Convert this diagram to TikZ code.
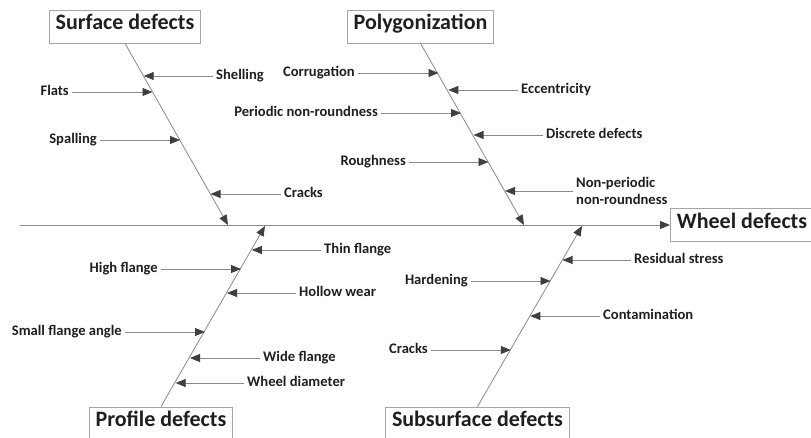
\documentclass[tikz,border=0pt]{standalone}
\usepackage{fontspec}
\setmainfont{Carlito}
\usetikzlibrary{arrows.meta}
\definecolor{bonecol}{HTML}{8A8A8A}
\definecolor{headcol}{HTML}{3F3F3F}
\definecolor{boxcol}{HTML}{A6A6A6}
\definecolor{txtcol}{HTML}{1F1F1F}
\begin{document}
\begin{tikzpicture}[x=1pt,y=-1pt,
  cat/.style={draw=boxcol, line width=0.8pt, text=txtcol,
    font=\fontsize{22}{24}\selectfont\bfseries,
    minimum height=33pt, inner xsep=6.5pt, inner ysep=0pt,
    text height=0.64em, text depth=0pt},
  lbl/.style={text=txtcol, font=\fontsize{14.6}{17}\selectfont\bfseries,
    inner xsep=3pt, inner ysep=0pt, text height=0.76em, text depth=0pt},
  lbltwo/.style={text=txtcol, font=\fontsize{14.6}{17}\selectfont\bfseries,
    inner xsep=3pt, inner ysep=0pt, align=left},
  bone/.style={draw=bonecol, line width=0.8pt,
    -{Triangle[length=10pt,width=8pt,color=headcol]}},
  lft/.style={lbl, anchor=east},
  rgt/.style={lbl, anchor=west}]
\useasboundingbox (0,0) rectangle (811,438);
\clip (0,0) rectangle (811,438);

% category boxes
\node[cat] (sd) at (125,26.5) {Surface defects};
\node[cat] (pg) at (420.5,26.5) {Polygonization};
\node[cat] (pf) at (161,423.5) {Profile defects};
\node[cat] (ss) at (477.5,423.5) {Subsurface defects};
\node[cat, anchor=west] (wd) at (670,225) {Wheel defects};

% spine
\coordinate (spine0) at (20,225);
\draw[bone] (spine0) -- (wd.west);

% bone ends on the spine
\coordinate (sdE) at (228,225);
\coordinate (pgE) at (524,225);
\coordinate (pfE) at (265,226);
\coordinate (ssE) at (582,226);
\draw[bone] (sd.south) -- (sdE);
\draw[bone] (pg.south) -- (pgE);
\draw[bone] (pf.north) -- (pfE);
\draw[bone] (ss.north) -- (ssE);

% surface defects causes
\node[rgt] (shel) at (213,76) {Shelling};
\node[lft] (flat) at (72,92) {Flats};
\node[lft] (spal) at (100,140) {Spalling};
\node[rgt] (crk) at (281,194) {Cracks};
\coordinate (tShel) at (143.7,76);
\coordinate (tFlat) at (152.5,92);
\coordinate (tSpal) at (180,140);
\coordinate (tCrk) at (210.5,194);
\draw[bone] (shel.west) -- (tShel);
\draw[bone] (flat.east) -- (tFlat);
\draw[bone] (spal.east) -- (tSpal);
\draw[bone] (crk.west) -- (tCrk);

% polygonization causes
\node[lft] (corr) at (358,73) {Corrugation};
\node[rgt] (ecc) at (518,90) {Eccentricity};
\node[lft] (pnr) at (381,113) {Periodic non-roundness};
\node[rgt] (disc) at (543,135) {Discrete defects};
\node[lft] (rough) at (409,162) {Roughness};
\node[lbltwo, anchor=west] (npnr) at (573,191) {Non-periodic\\non-roundness};
\coordinate (tCorr) at (438.5,73);
\coordinate (tEcc) at (448.3,90);
\coordinate (tPnr) at (461,113);
\coordinate (tDisc) at (473.5,135);
\coordinate (tRough) at (488.5,162);
\coordinate (tNpnr) at (505,191);
\draw[bone] (corr.east) -- (tCorr);
\draw[bone] (ecc.west) -- (tEcc);
\draw[bone] (pnr.east) -- (tPnr);
\draw[bone] (disc.west) -- (tDisc);
\draw[bone] (rough.east) -- (tRough);
\draw[bone] (npnr.west) -- (tNpnr);

% profile defects causes
\node[rgt] (thin) at (321,250) {Thin flange};
\node[lft] (high) at (161,269) {High flange};
\node[rgt] (hollow) at (296,293) {Hollow wear};
\node[lft] (small) at (125,332) {Small flange angle};
\node[rgt] (wide) at (260,358) {Wide flange};
\node[rgt] (diam) at (244,383) {Wheel diameter};
\coordinate (tThin) at (251.8,250);
\coordinate (tHigh) at (241,269);
\coordinate (tHollow) at (227,293);
\coordinate (tSmall) at (205,332);
\coordinate (tWide) at (190,358);
\coordinate (tDiam) at (175.7,383);
\draw[bone] (thin.west) -- (tThin);
\draw[bone] (high.east) -- (tHigh);
\draw[bone] (hollow.west) -- (tHollow);
\draw[bone] (small.east) -- (tSmall);
\draw[bone] (wide.west) -- (tWide);
\draw[bone] (diam.west) -- (tDiam);

% subsurface defects causes
\node[rgt] (resid) at (631,260) {Residual stress};
\node[lft] (hard) at (471,281) {Hardening};
\node[rgt] (cont) at (600,316) {Contamination};
\node[lft] (crktwo) at (431,350) {Cracks};
\coordinate (tResid) at (562.5,260);
\coordinate (tHard) at (550.5,281);
\coordinate (tCont) at (530.3,316);
\coordinate (tCrktwo) at (510.8,350);
\draw[bone] (resid.west) -- (tResid);
\draw[bone] (hard.east) -- (tHard);
\draw[bone] (cont.west) -- (tCont);
\draw[bone] (crktwo.east) -- (tCrktwo);
\end{tikzpicture}
\end{document}
